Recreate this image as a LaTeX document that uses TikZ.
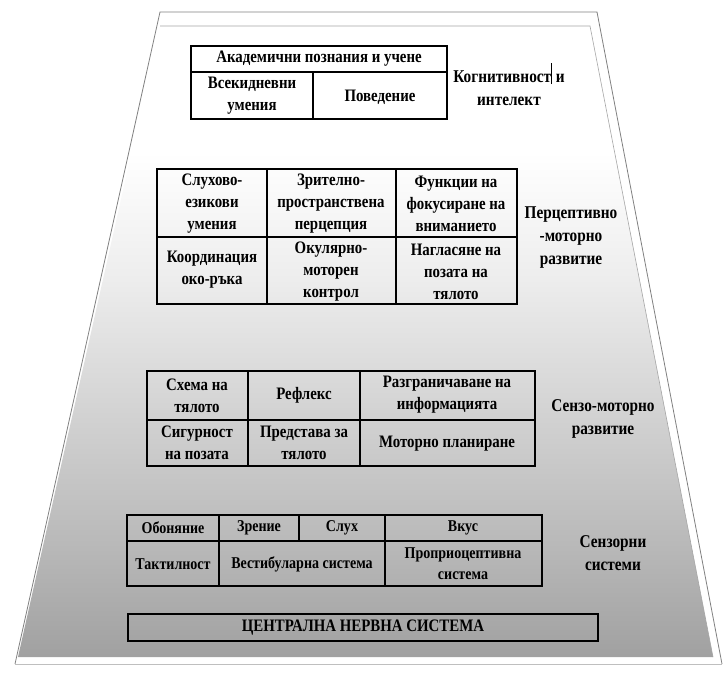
\documentclass[tikz,border=0pt]{standalone}
\usepackage{fontspec}
\setmainfont{Liberation Serif}
\newfontfamily\tnrb{Liberation Serif Bold}[FakeStretch=0.85]
\pgfdeclareverticalshading{pyr}{100bp}{rgb(0bp)=(.63,.63,.63); rgb(25bp)=(.63,.63,.63); rgb(33.5bp)=(.72,.72,.72); rgb(43.8bp)=(.82,.82,.82); rgb(55bp)=(.93,.93,.93); rgb(65bp)=(1,1,1); rgb(75bp)=(1,1,1); rgb(100bp)=(1,1,1)}
\begin{document}
\begin{tikzpicture}[x=1pt,y=-1pt,
  cell/.style={align=center, font=\tnrb\fontsize{17.5}{22}\selectfont, inner sep=0pt, text=black},
  small/.style={cell, font=\tnrb\fontsize{16.5}{21}\selectfont},
  lab/.style={cell, font=\tnrb\fontsize{18}{23}\selectfont},
  tbl/.style={line width=2pt, black},
  grid/.style={line width=1.2pt, black},
  edge/.style={gray, line width=0.8pt},
  inner/.style={gray!70, line width=0.6pt}]
\useasboundingbox (0,0) rectangle (727,673);
% pyramid background
\fill[white] (160,12) -- (597,12) -- (722,664) -- (15,664) -- cycle;
\shade[shading=pyr] (160,26) -- (590,26) -- (713,657) -- (18,657) -- cycle;
\draw[edge] (15,664) -- (160,12) -- (597,12) -- (722,664);
\draw[gray!50, line width=0.6pt] (15,664) -- (722,664);
\draw[inner] (160,26) -- (590,26) -- (713,657);
% table 1
\draw[tbl] (191,46) rectangle (447,119);
\draw[grid] (191,72) -- (447,72) (313,72) -- (313,119);
\node[cell] (t1a) at (319,59) {Академични познания и учене};
\node[cell] (t1b) at (252,96) {Всекидневни\\умения};
\node[cell] (t1c) at (380,97) {Поведение};
\node[lab] (l1) at (509,84) {Когнитивност\rule[-0.25ex]{0.8pt}{2.6ex} и\\интелект};
% table 2
\draw[tbl] (157,169) rectangle (517,304);
\draw[grid] (157,237) -- (517,237) (267,169) -- (267,304) (396,169) -- (396,304);
\node[cell] (t2a) at (212,204) {Слухово-\\езикови\\умения};
\node[cell] (t2b) at (331,204) {Зрително-\\пространствена\\перцепция};
\node[cell] (t2c) at (456,204) {Функции на\\фокусиране на\\вниманието};
\node[cell] (t2d) at (212,270) {Координация\\око-ръка};
\node[cell] (t2e) at (331,272) {Окулярно-\\моторен\\контрол};
\node[cell] (t2f) at (456,272) {Нагласяне на\\позата на\\тялото};
\node[lab] (l2) at (571,238) {Перцептивно\\-моторно\\развитие};
% table 3
\draw[tbl] (147,371) rectangle (535,466);
\draw[grid] (147,420) -- (535,420) (248,371) -- (248,466) (360,371) -- (360,466);
\node[cell] (t3a) at (197,396) {Схема на\\тялото};
\node[cell] (t3b) at (304,395) {Рефлекс};
\node[cell] (t3c) at (447,395) {Разграничаване на\\информацията};
\node[cell] (t3d) at (197,443) {Сигурност\\на позата};
\node[cell] (t3e) at (304,443) {Представа за\\тялото};
\node[cell] (t3f) at (447,444) {Моторно планиране};
\node[lab] (l3) at (603,419) {Сензо-моторно\\развитие};
% table 4
\draw[tbl] (127,515) rectangle (542,586);
\draw[grid] (127,541) -- (542,541) (219,515) -- (219,586) (385,515) -- (385,586) (299,515) -- (299,541);
\node[small] (t4a) at (173,528) {Обоняние};
\node[small] (t4b) at (259,528) {Зрение};
\node[small] (t4c) at (342,528) {Слух};
\node[small] (t4d) at (463,528) {Вкус};
\node[small] (t4e) at (173,564) {Тактилност};
\node[small] (t4f) at (302,564) {Вестибуларна система};
\node[small] (t4g) at (463,564) {Проприоцептивна\\система};
\node[lab] (l4) at (613,553) {Сензорни\\системи};
% CNS
\draw[tbl] (128,614) rectangle (598,641);
\node[cell] (cns) at (363,628) {ЦЕНТРАЛНА НЕРВНА СИСТЕМА};
\end{tikzpicture}
\end{document}
